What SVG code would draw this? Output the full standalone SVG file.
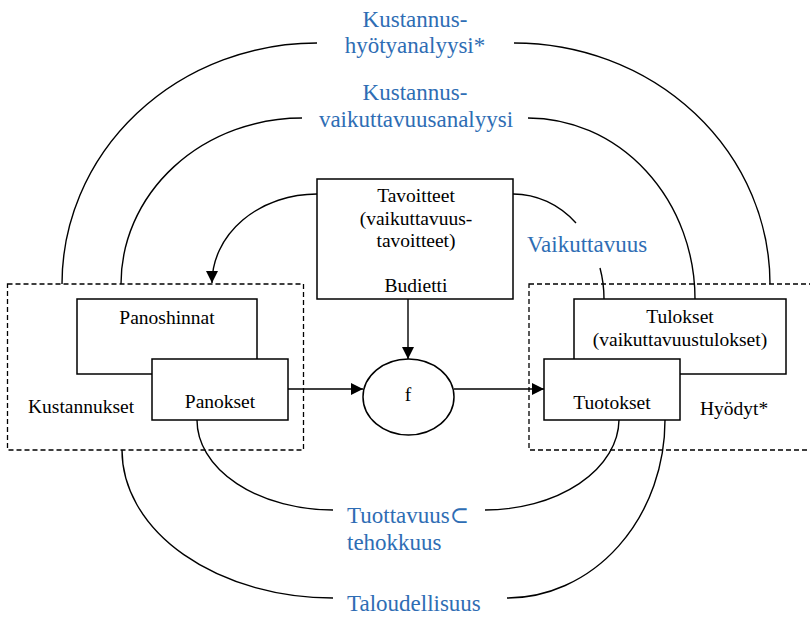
<svg xmlns="http://www.w3.org/2000/svg" width="810" height="617" viewBox="0 0 810 617">
<style>
.box{fill:#fff;stroke:#000;stroke-width:1.5}
.dash{fill:none;stroke:#000;stroke-width:1.3;stroke-dasharray:5,3}
.ln{fill:none;stroke:#000;stroke-width:1.4}
.t{font-size:19.5px;fill:#000}
.b{font-size:23px;fill:#2E6DB4}
.m{text-anchor:middle}
</style>
<defs>
<marker id="ah" viewBox="0 0 10 10" refX="10" refY="5" markerWidth="12" markerHeight="12" markerUnits="userSpaceOnUse" orient="auto">
<path d="M0,0 L10,5 L0,10 z" fill="#000"/>
</marker>
</defs>
<rect width="810" height="617" fill="#fff"/>
<g id="connectors">
<path class="ln" d="M62,284 A255,241 0 0 1 317,43"/>
<path class="ln" d="M514,43 A256,241 0 0 1 770,284"/>
<path class="ln" d="M121,284 A181,166 0 0 1 302,118"/>
<path class="ln" d="M528,118 A167,181 0 0 1 695,299"/>
<path class="ln" d="M513,194 A91,105 0 0 1 576,223"/>
<path class="ln" d="M600,268 A91,105 0 0 1 604,299"/>
<path class="ln" d="M317,194 A105,89 0 0 0 212,283" marker-end="url(#ah)"/>
<path class="ln" d="M197,420 A136,90 0 0 0 333,510"/>
<path class="ln" d="M485,510 A134,91 0 0 0 619,420"/>
<path class="ln" d="M122,450 A211,148 0 0 0 333,598"/>
<path class="ln" d="M507,598 A158,178 0 0 0 665,420"/>
<line class="ln" x1="408" y1="299" x2="408" y2="359" marker-end="url(#ah)"/>
<line class="ln" x1="288" y1="389" x2="363" y2="389" marker-end="url(#ah)"/>
<line class="ln" x1="454" y1="389" x2="544" y2="389" marker-end="url(#ah)"/>
</g>
<g font-family="'Liberation Serif', 'Times New Roman', 'DejaVu Serif', serif">
<g id="kustannukset">
<rect class="dash" x="7.5" y="284" width="296" height="166"/>
<text class="t" x="28" y="413">Kustannukset</text>
</g>
<g id="hyodyt">
<rect class="dash" x="529" y="284" width="300" height="166"/>
<text class="t" x="700" y="415">Hyödyt*</text>
</g>
<g id="panoshinnat">
<rect class="box" x="77" y="299" width="180" height="75"/>
<text class="t m" x="167" y="324">Panoshinnat</text>
</g>
<g id="panokset">
<rect class="box" x="152" y="359" width="136" height="61"/>
<text class="t m" x="220" y="408">Panokset</text>
</g>
<g id="tavoitteet">
<rect class="box" x="317" y="179" width="196" height="120"/>
<text class="t m" x="416" y="202">Tavoitteet</text>
<text class="t m" x="416" y="225">(vaikuttavuus-</text>
<text class="t m" x="416" y="247">tavoitteet)</text>
<text class="t m" x="416" y="292">Budietti</text>
</g>
<g id="f">
<ellipse cx="408.5" cy="397" rx="45.5" ry="38" fill="#fff" stroke="#000" stroke-width="1.5"/>
<text class="t m" x="408" y="401">f</text>
</g>
<g id="tulokset">
<rect class="box" x="574" y="299" width="212" height="75"/>
<text class="t m" x="680" y="323">Tulokset</text>
<text class="t m" x="680" y="346">(vaikuttavuustulokset)</text>
</g>
<g id="tuotokset">
<rect class="box" x="544" y="359" width="136" height="61"/>
<text class="t m" x="612" y="409">Tuotokset</text>
</g>
<g id="labels">
<text class="b m" x="415" y="27">Kustannus-</text>
<text class="b m" x="415" y="53">hyötyanalyysi*</text>
<text class="b m" x="415" y="100">Kustannus-</text>
<text class="b m" x="416" y="127">vaikuttavuusanalyysi</text>
<text class="b" x="527" y="252">Vaikuttavuus</text>
<text class="b" x="347" y="523">Tuottavuus⊂</text>
<text class="b" x="347" y="550">tehokkuus</text>
<text class="b" x="347" y="611">Taloudellisuus</text>
</g>
</g>
</svg>
